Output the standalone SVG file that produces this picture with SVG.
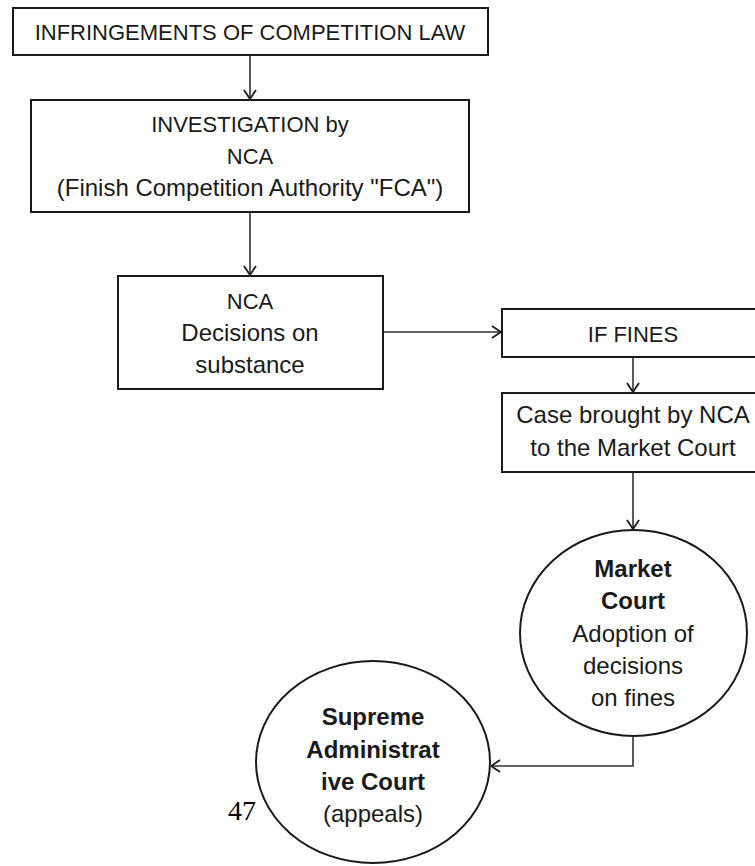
<svg xmlns="http://www.w3.org/2000/svg" width="755" height="866" viewBox="0 0 755 866">
<style>
.box{fill:#fff;stroke:#1a1a1a;stroke-width:2}
.conn{fill:none;stroke:#333;stroke-width:1.6}
text{font-family:"Liberation Sans",Arial,sans-serif;font-size:24px;fill:#1a1a1a;text-anchor:middle}
.caps{font-size:22px}
.b{font-weight:bold}
.pg{font-family:"Liberation Serif","Times New Roman",serif;font-size:28px;fill:#000;text-anchor:start}
</style>
<defs>
<marker id="arr" markerUnits="userSpaceOnUse" viewBox="0 0 10 14" refX="10" refY="7" markerWidth="10" markerHeight="14" orient="auto">
<path d="M1,1 L10,7 L1,13" fill="none" stroke="#1a1a1a" stroke-width="1.8"/>
</marker>
</defs>
<rect width="755" height="866" fill="#fff"/>
<g id="connectors">
<line class="conn" x1="250" y1="55" x2="250" y2="99" marker-end="url(#arr)"/>
<line class="conn" x1="250" y1="212" x2="250" y2="275" marker-end="url(#arr)"/>
<line class="conn" x1="383" y1="332" x2="501" y2="332" marker-end="url(#arr)"/>
<line class="conn" x1="633" y1="357" x2="633" y2="392" marker-end="url(#arr)"/>
<line class="conn" x1="633" y1="472" x2="633" y2="529" marker-end="url(#arr)"/>
<polyline class="conn" points="633,736 633,766 491,766" marker-end="url(#arr)"/>
</g>
<g id="infringements">
<rect class="box" x="13" y="8" width="475" height="47"/>
<text class="caps" x="250" y="40">INFRINGEMENTS OF COMPETITION LAW</text>
</g>
<g id="investigation">
<rect class="box" x="31" y="100" width="438" height="112"/>
<text class="caps" x="250" y="132">INVESTIGATION by</text>
<text class="caps" x="250" y="164">NCA</text>
<text x="250" y="196">(Finish Competition Authority "FCA")</text>
</g>
<g id="nca-decisions">
<rect class="box" x="118" y="276" width="265" height="113"/>
<text class="caps" x="250" y="309">NCA</text>
<text x="250" y="341">Decisions on</text>
<text x="250" y="373">substance</text>
</g>
<g id="if-fines">
<rect class="box" x="502" y="309" width="300" height="48"/>
<text class="caps" x="633" y="342">IF FINES</text>
</g>
<g id="case-brought">
<rect class="box" x="502" y="393" width="300" height="79"/>
<text x="633" y="423">Case brought by NCA</text>
<text x="633" y="456">to the Market Court</text>
</g>
<g id="market-court">
<ellipse class="box" cx="633.5" cy="633" rx="113.5" ry="103"/>
<text class="b" x="633" y="577">Market</text>
<text class="b" x="633" y="609">Court</text>
<text x="633" y="642">Adoption of</text>
<text x="633" y="674">decisions</text>
<text x="633" y="706">on fines</text>
</g>
<g id="supreme-court">
<ellipse class="box" cx="373" cy="762" rx="117" ry="101"/>
<text class="b" x="373" y="725">Supreme</text>
<text class="b" x="373" y="758">Administrat</text>
<text class="b" x="373" y="790">ive Court</text>
<text x="373" y="822">(appeals)</text>
</g>
<text class="pg" x="228" y="820">47</text>
</svg>
